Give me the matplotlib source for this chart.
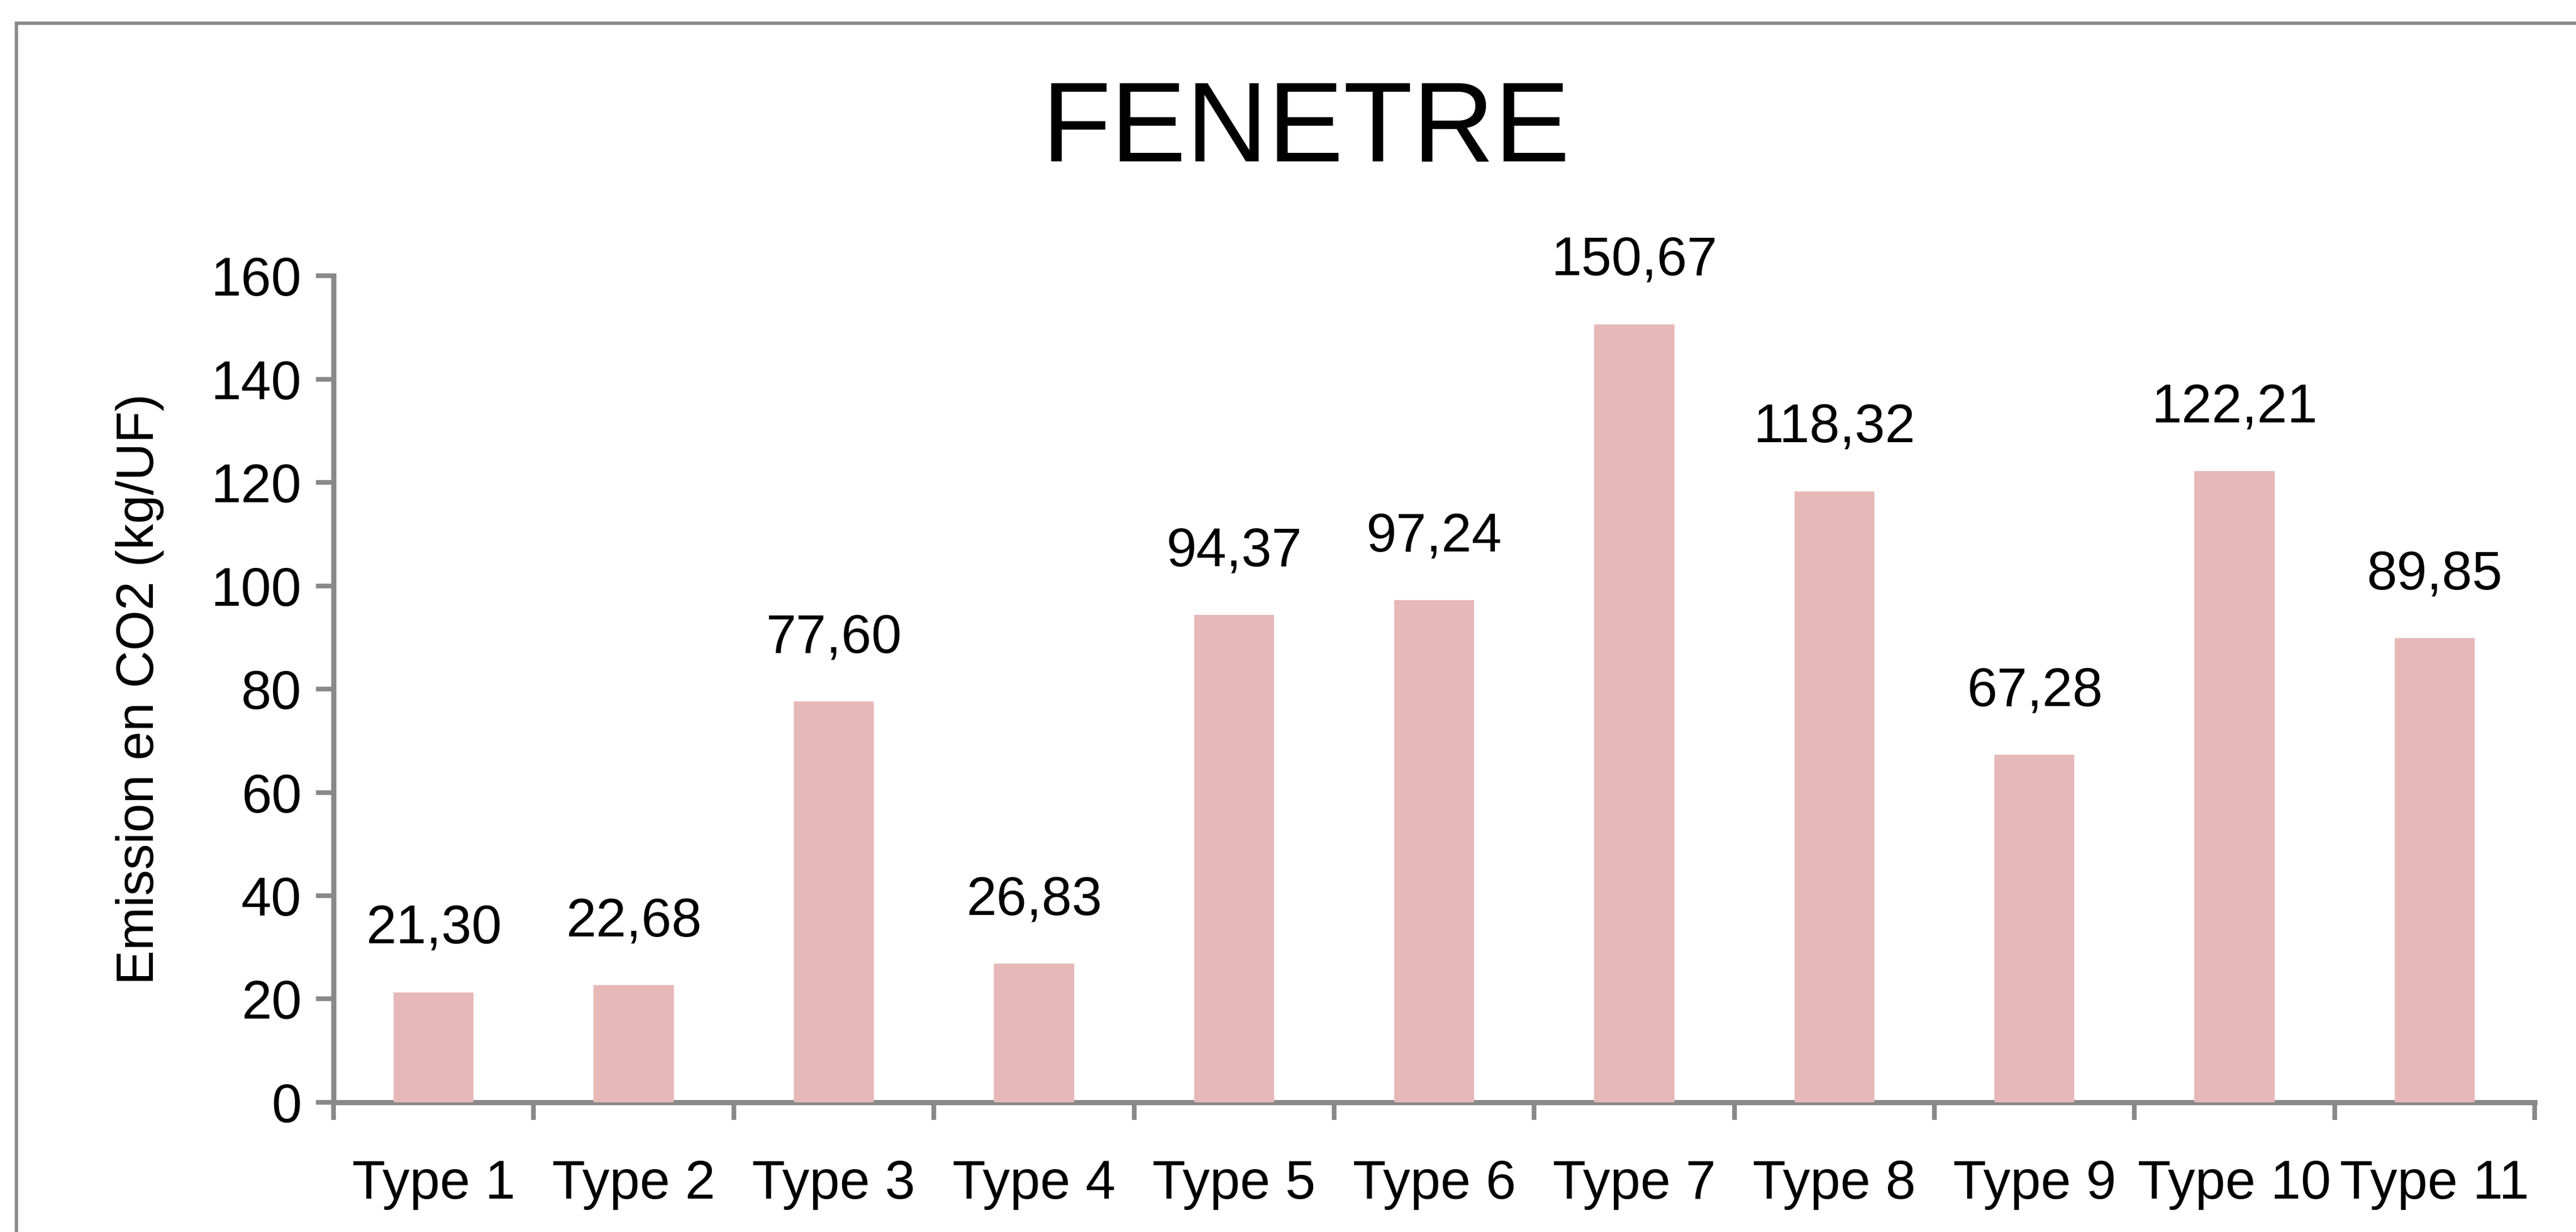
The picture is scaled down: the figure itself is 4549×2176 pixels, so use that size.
import numpy as np
import matplotlib
matplotlib.use("Agg")
import matplotlib.pyplot as plt
import matplotlib.patches as mpatches
from matplotlib.ticker import FixedLocator

plt.rcParams['font.family'] = ['Liberation Sans Narrow', 'Liberation Sans', 'DejaVu Sans']

# Emissions per window type
types = ['Type 1', 'Type 2', 'Type 3', 'Type 4', 'Type 5', 'Type 6',
         'Type 7', 'Type 8', 'Type 9', 'Type 10', 'Type 11']
emissions = [21.30, 22.68, 77.60, 26.83, 94.37, 97.24,
             150.67, 118.32, 67.28, 122.21, 89.85]
yticks = [0, 20, 40, 60, 80, 100, 120, 140, 160]

BAR_COLOR = '#E6B8B7'
AXIS_COLOR = '#898989'

fig = plt.figure(figsize=(4549 / 300, 2176 / 300), dpi=300)
ax = fig.add_axes([0.1295, 0.1053, 0.8545, 0.6707])

# outer chart frame (runs off the right and bottom edges)
frame = mpatches.Rectangle((0.0064, -0.5), 1.5, 0.5 + 0.981,
                           transform=fig.transFigure, fill=False,
                           edgecolor=AXIS_COLOR, lw=1.4, zorder=0)
fig.patches.append(frame)

x = np.arange(len(types))
ax.bar(x, emissions, width=0.40, color=BAR_COLOR, zorder=3)

for xi, v in zip(x, emissions):
    ax.annotate(f'{v:.2f}'.replace('.', ','), (xi, v),
                xytext=(0, 16), textcoords='offset points',
                ha='center', va='bottom', fontsize=23)

ax.set_xlim(-0.5, len(types) - 0.5)
ax.set_ylim(0, 160)
ax.set_yticks(yticks)
ax.set_yticklabels([str(t) for t in yticks], fontsize=23)

ax.set_xticks(x)
ax.set_xticklabels(types, fontsize=23)
ax.xaxis.set_minor_locator(FixedLocator(np.arange(len(types) + 1) - 0.5))
ax.tick_params(axis='x', which='major', length=0, pad=24)
ax.tick_params(axis='x', which='minor', length=7.5, width=2.0,
               color=AXIS_COLOR, direction='out')
ax.tick_params(axis='y', length=7.5, width=2.0, color=AXIS_COLOR, pad=6)

for side in ('top', 'right'):
    ax.spines[side].set_visible(False)
for side in ('left', 'bottom'):
    ax.spines[side].set_color(AXIS_COLOR)
    ax.spines[side].set_linewidth(2.2)

ax.set_ylabel('Emission en CO2 (kg/UF)', fontsize=22, labelpad=20)

fig.text(0.507, 0.893, 'FENETRE', ha='center', va='center', fontsize=48)

fig.savefig('out.png', dpi=300, facecolor='white')
